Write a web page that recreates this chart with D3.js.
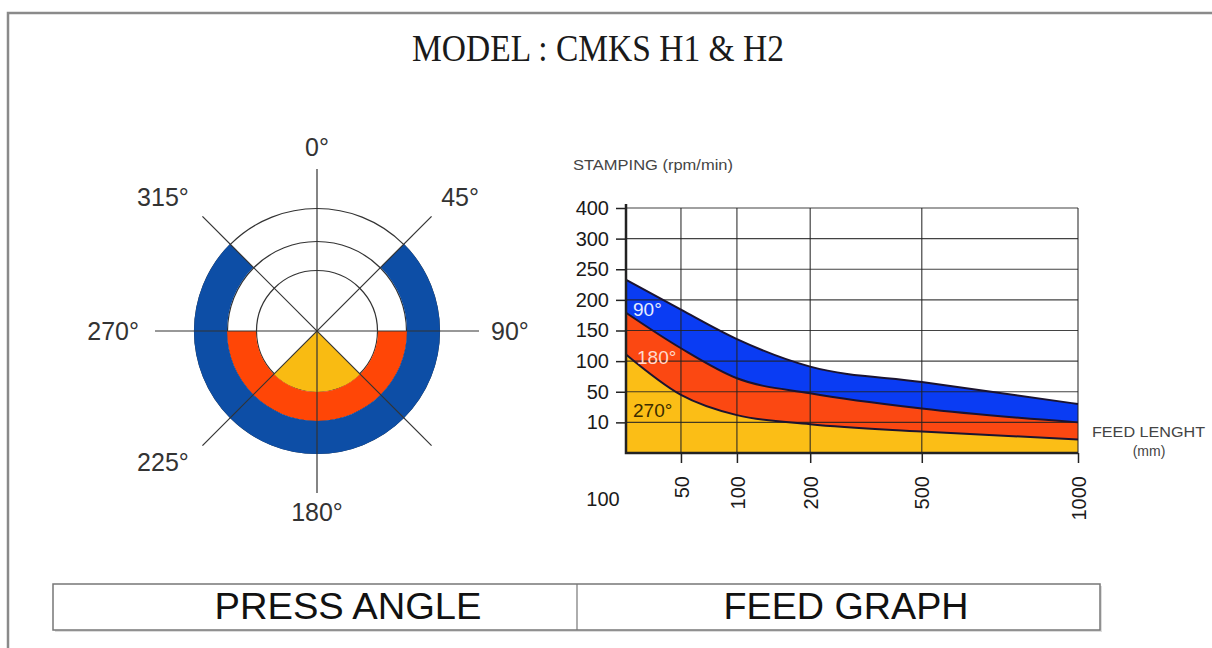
<!DOCTYPE html>
<html>
<head>
<meta charset="utf-8">
<script src="https://cdn.jsdelivr.net/npm/d3@7"></script>
<style>
  body { margin: 0; background: #fff; }
  svg { display: block; }
  text { font-family: "Liberation Sans", Arial, sans-serif; }
</style>
</head>
<body>
<svg id="chart" width="1212" height="648"></svg>
<script>
// press angle zones, inner to outer
const zoneNames = ['270°', '180°', '90°'];
const zoneStart = [135, 90, 45];
const zoneEnd = [225, 270, 315];
const angleTicks = [0, 45, 90, 180, 225, 270, 315];

// feed graph
const feedValues = [10, 50, 100, 200, 500, 1000];
const feedTicks = [50, 100, 200, 500, 1000];
const feedOriginLabel = '100';
const speedTicks = [10, 50, 100, 150, 200, 250, 300, 400];
const speed90 = [233, 184, 136, 91, 66, 34];
const speed180 = [179, 121, 72, 48, 28, 10];
const speed270 = [111, 46, 19.5, 9.4, 7, 4.4];

const svg = d3.select('#chart');

// outer frame
svg.append('path')
    .attr('d', 'M8,648 V13 H1212')
    .attr('fill', 'none')
    .attr('stroke', '#8a8a8a')
    .attr('stroke-width', 2.5);

svg.append('text')
    .attr('x', 598).attr('y', 61)
    .attr('text-anchor', 'middle')
    .attr('textLength', 372)
    .attr('lengthAdjust', 'spacingAndGlyphs')
    .style('font-family', '"Liberation Serif", "Times New Roman", serif')
    .style('font-size', '37px')
    .attr('fill', '#1a1a1a')
    .text('MODEL : CMKS H1 & H2');

// ---------- press angle (polar) ----------
const cx = 317, cy = 331;
const rad = d3.scaleLinear().domain([0, 1, 2, 3]).range([0, 61, 90, 123]);
const toRad = d => d * Math.PI / 180;
const polarColors = ['#f9bb12', '#ff4606', '#0d4ea6'];

const pg = svg.append('g').attr('transform', `translate(${cx},${cy})`);

pg.selectAll('circle.ring')
    .data([1, 2, 3])
    .enter().append('circle')
    .attr('class', 'ring')
    .attr('r', d => rad(d) - 0.5)
    .attr('fill', 'none')
    .attr('stroke', '#333')
    .attr('stroke-width', 1.2);

const arc = d3.arc();
pg.selectAll('path.zone')
    .data(zoneNames)
    .enter().append('path')
    .attr('class', 'zone')
    .attr('fill', (d, i) => polarColors[i])
    .attr('d', (d, i) => arc({
        innerRadius: rad(i),
        outerRadius: rad(i + 1),
        startAngle: toRad(zoneStart[i]),
        endAngle: toRad(zoneEnd[i])
    }));

const axisLen = 162;
pg.selectAll('line.spoke')
    .data([0, 45, 90, 135])
    .enter().append('line')
    .attr('class', 'spoke')
    .attr('x1', d => -axisLen * Math.sin(toRad(d)))
    .attr('y1', d => axisLen * Math.cos(toRad(d)))
    .attr('x2', d => axisLen * Math.sin(toRad(d)))
    .attr('y2', d => -axisLen * Math.cos(toRad(d)))
    .attr('stroke', '#333')
    .attr('stroke-width', 1.2);

const labelR = 170;
pg.selectAll('text.angle')
    .data(angleTicks)
    .enter().append('text')
    .attr('class', 'angle')
    .attr('x', d => {
        const s = Math.sin(toRad(d));
        return labelR * s + (s > 0.1 ? 4 : s < -0.1 ? -8 : 0);
    })
    .attr('y', d => {
        const c = Math.cos(toRad(d));
        return -labelR * c + (c > 0.1 ? -5 : 0);
    })
    .attr('dy', d => {
        const c = Math.cos(toRad(d));
        return c > 0.1 ? 0 : c < -0.1 ? '0.78em' : '0.36em';
    })
    .attr('text-anchor', d => {
        const s = Math.sin(toRad(d));
        return s > 0.1 ? 'start' : s < -0.1 ? 'end' : 'middle';
    })
    .style('font-size', '25px')
    .attr('fill', '#333')
    .text(d => d + '°');

// ---------- feed graph ----------
const plot = {left: 626, right: 1078, top: 208, bottom: 453};
const xStops = [0, 0.1216, 0.2454, 0.4075, 0.6544, 1];
const x = d3.scaleLinear()
    .domain(feedValues)
    .range(xStops.map(f => plot.left + f * (plot.right - plot.left)));
const yDomain = [0].concat(speedTicks);
const band = (plot.bottom - plot.top) / (yDomain.length - 1);
const y = d3.scaleLinear()
    .domain(yDomain)
    .range(yDomain.map((d, i) => plot.bottom - i * band));

const fg = svg.append('g');

const series = [
    {name: '90°', values: speed90, fill: '#0a3cf3', label: '#e6ecff'},
    {name: '180°', values: speed180, fill: '#fb4812', label: '#ffd9cc'},
    {name: '270°', values: speed270, fill: '#fbbe16', label: '#3a2c00'}
];

const area = d3.area()
    .x((d, i) => x(feedValues[i]))
    .y0(y(0))
    .y1(d => y(d))
    .curve(d3.curveMonotoneX);
const line = d3.line()
    .x((d, i) => x(feedValues[i]))
    .y(d => y(d))
    .curve(d3.curveMonotoneX);

fg.selectAll('path.area')
    .data(series)
    .enter().append('path')
    .attr('class', 'area')
    .attr('d', d => area(d.values))
    .attr('fill', d => d.fill);

// grid
fg.selectAll('line.hgrid')
    .data(speedTicks)
    .enter().append('line')
    .attr('class', 'hgrid')
    .attr('x1', plot.left).attr('x2', plot.right)
    .attr('y1', d => y(d)).attr('y2', d => y(d))
    .attr('stroke', '#222')
    .attr('stroke-opacity', 0.85)
    .attr('stroke-width', 1.2);
fg.selectAll('line.vgrid')
    .data(feedTicks)
    .enter().append('line')
    .attr('class', 'vgrid')
    .attr('x1', d => x(d)).attr('x2', d => x(d))
    .attr('y1', plot.top).attr('y2', plot.bottom)
    .attr('stroke', '#222')
    .attr('stroke-opacity', 0.85)
    .attr('stroke-width', 1.2);

fg.selectAll('path.edge')
    .data(series)
    .enter().append('path')
    .attr('class', 'edge')
    .attr('d', d => line(d.values))
    .attr('fill', 'none')
    .attr('stroke', '#1b1430')
    .attr('stroke-width', 2);

// axes
const yAxis = d3.axisLeft(y).tickValues(speedTicks).tickSize(10).tickPadding(7);
const yg = fg.append('g')
    .attr('transform', `translate(${plot.left},0)`)
    .call(yAxis);
const xAxis = d3.axisBottom(x).tickValues(feedTicks).tickSize(10).tickFormat(d3.format('d'));
const xg = fg.append('g')
    .attr('transform', `translate(0,${plot.bottom})`)
    .call(xAxis);
[yg, xg].forEach(g => {
    g.select('.domain').remove();
    g.selectAll('.tick line').attr('stroke', '#222').attr('stroke-width', 1.5);
    g.selectAll('.tick text')
        .attr('fill', '#1a1a1a')
        .style('font-size', '20px')
        .style('font-family', '"Liberation Sans", Arial, sans-serif');
});
xg.selectAll('.tick text')
    .attr('transform', 'rotate(-90)')
    .attr('x', -23)
    .attr('y', 0)
    .attr('dy', '0.36em')
    .attr('text-anchor', 'end');

fg.append('path')
    .attr('d', `M${plot.left},${plot.top - 4} V${plot.bottom} H${plot.right}`)
    .attr('fill', 'none')
    .attr('stroke', '#222')
    .attr('stroke-width', 2.5);

fg.append('text')
    .attr('x', 603).attr('y', 506)
    .attr('text-anchor', 'middle')
    .style('font-size', '20px')
    .attr('fill', '#1a1a1a')
    .text(feedOriginLabel);

// zone labels inside the bands
const labelY = [316, 364, 417];
fg.selectAll('text.zone')
    .data(series)
    .enter().append('text')
    .attr('class', 'zone')
    .attr('x', (d, i) => plot.left + (i === 1 ? 11 : 7))
    .attr('y', (d, i) => labelY[i])
    .style('font-size', '19px')
    .attr('fill', d => d.label)
    .text(d => d.name);

fg.append('text')
    .attr('x', 573).attr('y', 170)
    .attr('textLength', 160)
    .attr('lengthAdjust', 'spacingAndGlyphs')
    .style('font-size', '14.5px')
    .attr('fill', '#444')
    .text('STAMPING (rpm/min)');

fg.append('text')
    .attr('x', 1092).attr('y', 437)
    .attr('textLength', 113)
    .attr('lengthAdjust', 'spacingAndGlyphs')
    .style('font-size', '15.5px')
    .attr('fill', '#444')
    .text('FEED LENGHT');
fg.append('text')
    .attr('x', 1149).attr('y', 456)
    .attr('text-anchor', 'middle')
    .style('font-size', '14px')
    .attr('fill', '#444')
    .text('(mm)');

// ---------- caption box ----------
const captions = ['PRESS ANGLE', 'FEED GRAPH'];
const captionWidth = [267, 245];
const box = {left: 53, right: 1100, top: 584, bottom: 630, mid: 577};
svg.append('rect')
    .attr('x', box.left + 2).attr('y', box.top + 2)
    .attr('width', box.right - box.left).attr('height', box.bottom - box.top)
    .attr('fill', '#ddd');
svg.append('rect')
    .attr('x', box.left).attr('y', box.top)
    .attr('width', box.right - box.left).attr('height', box.bottom - box.top)
    .attr('fill', '#fff')
    .attr('stroke', '#777')
    .attr('stroke-width', 1.5);
svg.append('line')
    .attr('x1', box.mid).attr('x2', box.mid)
    .attr('y1', box.top).attr('y2', box.bottom)
    .attr('stroke', '#777')
    .attr('stroke-width', 1.2);
svg.selectAll('text.caption')
    .data(captions)
    .enter().append('text')
    .attr('class', 'caption')
    .attr('x', (d, i) => i === 0 ? 348 : 846)
    .attr('y', 619)
    .attr('text-anchor', 'middle')
    .attr('textLength', (d, i) => captionWidth[i])
    .attr('lengthAdjust', 'spacingAndGlyphs')
    .style('font-size', '37px')
    .attr('fill', '#111')
    .text(d => d);
</script>
</body>
</html>
